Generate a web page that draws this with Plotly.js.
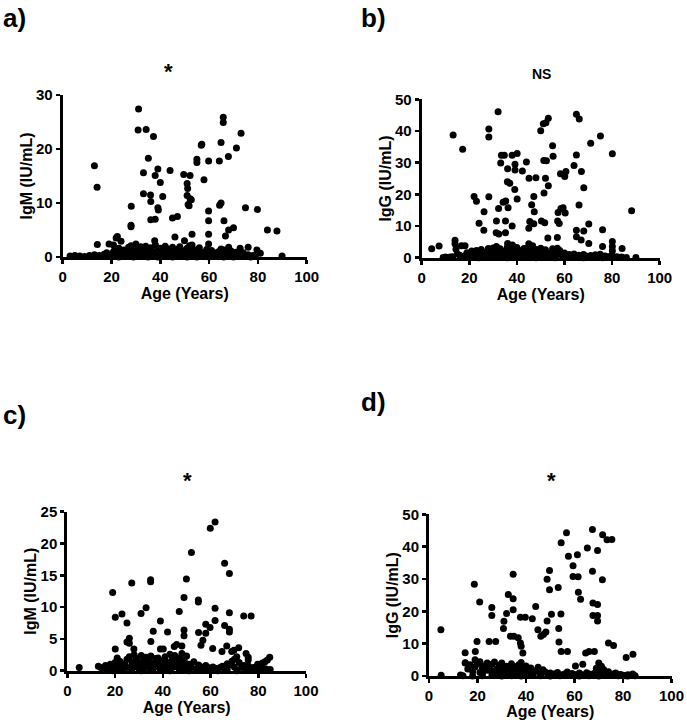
<!DOCTYPE html>
<html>
<head>
<meta charset="utf-8">
<script src="https://cdn.plot.ly/plotly-3.0.1.min.js"></script>
<style>html,body{margin:0;padding:0;background:#fff;}#chart{width:687px;height:720px;}</style>
</head>
<body>
<div id="chart"></div>
<script>
// ---------- Panel a: IgM vs Age ----------
const ageA_hi = [13,14.1,14.2,31.1,30.9,34.2,37.2,35.1,33.1,39,
  37.9,40,33.1,36,36.1,41,39,39.2,36.1,37.9,
  28.1,28,28,44,45,47,46,37.7,49.6,52.2,
  51,51.2,51,52.2,52.7,51.4,51.8,49.9,53,53,
  55,55,56.8,57,57.9,59.8,59.8,59.8,59.8,59.8,
  64.2,64.9,65.8,65.8,64.3,64.9,66.1,67.9,71.2,73.1,
  66.7,68,70,74.9,79.8,83.9,87.8,22.4,21.9,19,
  20.8,23.9,22.8,89.9,68,72.7,76,79.6,64.9];
const igmA_hi = [16.9,12.9,2.3,27.4,23.5,23.6,22.3,18.3,15.6,16.3,
  15.1,13.8,11.7,11.5,10.3,11.2,9.1,8.7,6.9,7.0,
  9.4,5.9,5.6,16.0,7.2,7.5,3.7,3.0,15.3,15.1,
  13.6,12.7,11.4,10.8,10.6,9.7,9.5,3.0,4.2,2.2,
  18.1,17.5,20.7,20.9,14.3,17.8,8.5,6.7,4.2,2.4,
  17.8,21.2,25.9,24.9,9.6,10.0,6.7,18.6,20.2,22.9,
  3.9,5.0,5.4,9.1,8.8,5.0,4.8,3.8,3.5,2.4,
  2.2,2.9,1.5,0.2,1.8,1.6,1.8,1.3,1.5];
const ageA_lo = [3,5,7,9,11,13,15,17,18,19,
  20,21,22,23,24,24,25,25,26,26,
  27,27,28,28,29,29,30,30,31,31,
  32,32,33,33,34,34,35,35,36,36,
  37,37,38,38,39,39,40,40,41,41,
  42,42,43,43,44,44,45,45,46,46,
  47,47,48,48,49,49,50,50,51,51,
  52,52,53,54,54,55,56,56,57,58,
  58,59,60,61,62,63,64,65,66,67,
  68,69,70,71,72,73,74,76,78,81,
  21,23,25,27,29,31,33,35,37,39,
  41,43,45,47,49,51,53,55,57,59,
  60,62,64,66,68,70,72,75,77,79];
const igmA_lo = [0.2,0.3,0.2,0.1,0.3,0.4,0.3,0.5,0.8,0.2,
  0.6,1.1,0.3,1.6,0.5,0.9,0.2,1.3,0.7,0.1,
  1.8,0.4,2.1,0.8,0.3,1.2,0.6,2.4,0.2,1.5,
  0.9,1.9,0.4,1.1,0.7,2.0,0.3,1.4,0.8,1.7,
  0.2,1.0,0.6,2.2,0.4,1.3,0.9,1.6,0.1,0.7,
  1.2,2.0,0.5,1.5,0.3,0.9,1.8,0.6,1.1,0.2,
  1.4,0.8,0.4,1.9,0.7,1.2,0.3,1.0,1.6,0.5,
  0.9,2.1,0.4,1.3,0.7,0.2,1.1,1.7,0.5,0.9,
  0.3,1.4,0.6,1.2,0.2,0.8,1.0,0.4,1.3,0.7,
  0.3,1.1,0.5,0.9,0.2,0.6,0.8,0.4,0.3,0.7,
  0.1,0.0,0.2,0.1,0.0,0.1,0.2,0.0,0.1,0.0,
  0.2,0.1,0.0,0.1,0.2,0.0,0.1,0.0,0.2,0.1,
  0.0,0.1,0.2,0.0,0.1,0.0,0.2,0.1,0.0,0.1];

// ---------- Panel b: IgG vs Age ----------
const ageB_hi = [4.2,7.3,13.2,17.2,14,14,14.4,16.7,18.2,32.1,
  28.2,28.2,22,23,28.2,26.2,24.1,26.1,31.4,31.3,
  32.4,32.3,33.2,33.5,34.7,34.2,35.3,35.2,35.2,36.3,
  36,37,36.1,38,39.2,39.2,40.1,39.1,40.1,38,
  42.3,44,45.1,48,47.1,46.2,47.3,45.4,47.1,45,
  50,51.1,52.2,53.2,51.3,52.4,55,55.2,52,53.2,
  51.4,50.3,51.7,53,57,57.1,57.8,58.3,60.6,60.1,
  58.5,59.4,60.3,57.3,64,65,65,66.2,67.1,68.1,
  66.1,65,65,67,68.1,70.2,70.2,71,75.1,80.1,
  76,76,80.1,80.1,80.1,84.2,88.2,90,57,45,
  46.6,38.1,36.1,31.4];
const iggB_hi = [2.8,3.7,38.7,34.2,4.4,5.5,2.7,3.8,3.8,46.1,
  40.6,38.1,19.3,17.8,19.2,14.5,10.9,8.7,11.6,7.9,
  7.5,15.5,29.9,32.3,32.3,17.5,17.9,11.6,7.9,15.8,
  24,23.5,28.1,32.3,29.5,27.7,32.9,21.5,18.5,10,
  27.4,30.2,25.1,25.2,19.3,16.7,14.5,11.4,10.7,9.3,
  40.1,42.3,42.6,44,30.7,30.6,35.3,32,25.1,22.7,
  20.4,11.6,11,6.2,6.4,11.6,10.8,26.5,27.2,25.6,
  15.5,15.8,14.1,14.3,29.1,32.4,45.3,43.8,27.2,22.1,
  16.6,8.7,6.6,5.6,8.4,4.5,10.6,36.1,38.4,32.8,
  8.8,3.5,5.1,3.5,2.2,2.9,14.8,0.1,3,4.4,
  3.8,4,4.5,3.5];
const ageB_lo = [9,10,11,12,13,15,16,18,19,20,
  21,22,22,23,24,25,25,26,27,27,
  28,28,29,29,30,30,31,32,32,33,
  33,34,34,35,35,36,36,37,37,38,
  38,39,39,40,40,41,41,42,42,43,
  43,44,44,45,46,46,47,47,48,48,
  49,49,50,50,51,51,52,53,53,54,
  55,55,56,57,58,59,60,61,62,63,
  64,65,66,67,68,69,70,71,72,73,
  74,75,76,77,78,79,80,82,84,86,
  20,24,28,32,36,40,44,48,52,56,
  60,64,68,72,76,80];
const iggB_lo = [0.1,0.2,0.1,0.2,0.3,1.2,0.8,0.5,1.6,0.9,
  2.1,0.4,1.4,2.3,0.7,1.1,2.6,0.3,1.8,0.6,
  2.9,1.0,0.4,2.2,1.5,3.1,0.8,2.4,0.3,1.7,
  2.8,0.6,1.3,2.0,0.2,3.3,1.1,0.5,2.5,1.4,
  0.3,2.7,0.9,1.8,3.2,0.4,1.5,2.3,0.7,1.2,
  2.9,0.5,1.9,3.4,0.8,2.1,0.3,1.6,2.6,1.0,
  0.4,2.2,1.3,3.0,0.6,1.9,2.5,0.9,1.4,0.2,
  1.7,2.8,0.5,1.1,2.3,0.7,1.5,0.3,1.0,0.6,
  1.2,0.4,0.8,0.2,1.0,0.5,0.3,0.7,0.4,0.9,
  0.6,1.1,0.3,0.5,0.2,0.4,0.8,0.3,0.2,0.1,
  0.1,0.0,0.2,0.1,0.0,0.1,0.2,0.0,0.1,0.0,
  0.2,0.1,0.0,0.1,0.0,0.2];

// ---------- Panel c: IgM vs Age ----------
const ageC_hi = [5,19,20.1,20.1,20.9,22.9,25,25,26,26,
  27,27.9,30.9,33,34.9,34.9,35,36,39,39,
  40.2,42,44.8,45.8,46.9,48,48.9,48.9,48.9,49.9,
  52,54.9,54.9,55,56,56.8,58,58,59.8,59.9,
  61.9,60.9,61.9,61.9,64.8,65.9,65.9,66.8,67.9,67.9,
  67.9,67.9,68.9,69.8,71.8,73.9,77,74.9,75.8,75.8,
  79.7,81.7,82.8,83.8,84.8];
const igmC_hi = [0.5,12.3,8.4,3.4,2.0,8.9,7.5,4.5,5.1,4.3,
  13.8,3.4,9,9.9,14.3,14.0,4.6,6.2,7.8,3.4,
  3.4,6.1,3.8,4.1,9.3,3.9,11.5,6.4,5.5,14.4,
  18.6,11.1,10.8,6.0,4,4.8,5.9,7.3,6.8,22.4,
  23.4,3.5,9.8,7.9,3.0,16.9,7.1,3.9,15.3,9.1,
  6.5,6.1,3.0,3.2,3.6,8.6,8.6,2.7,2.1,1.7,
  1.0,1.2,1.4,1.7,2.1];
const ageC_lo = [13,14,15,16,17,18,19,20,21,22,
  22,23,24,25,25,26,27,27,28,28,
  29,29,30,30,31,31,32,32,33,33,
  34,34,35,35,36,36,37,37,38,38,
  39,39,40,40,41,41,42,43,43,44,
  44,45,45,46,46,47,47,48,48,49,
  49,50,50,51,52,53,54,55,56,57,
  58,59,60,61,62,63,64,65,66,67,
  68,69,70,70,71,72,73,74,75,76,
  77,78,79,80,81,82,83,84,85,78,
  15,19,23,27,31,35,39,43,47,51,
  55,59,63,67,71,75];
const igmC_lo = [0.7,0.5,0.4,0.8,0.3,1.0,0.6,1.3,0.4,0.9,
  1.5,0.3,1.1,1.8,0.5,2.2,0.8,1.4,2.5,0.6,
  1.0,1.9,0.4,1.3,2.4,0.7,1.6,0.3,2.1,1.0,
  0.5,1.7,2.3,0.8,1.2,0.4,1.9,0.6,1.4,2.0,
  0.3,1.1,1.6,0.7,2.2,0.4,1.3,2.6,0.9,0.5,
  1.8,1.2,2.4,0.6,1.5,2.0,0.8,2.7,1.1,0.4,
  1.6,2.3,0.7,1.0,0.5,1.4,0.3,0.9,0.6,0.4,
  0.8,0.5,0.3,0.6,0.4,0.2,0.5,0.7,0.3,1.1,
  0.9,1.5,1.8,0.6,2.2,1.3,0.5,0.8,0.4,0.7,
  0.3,0.5,0.2,0.4,0.3,0.2,0.3,0.1,0.2,0.1,
  0.1,0.0,0.2,0.1,0.0,0.1,0.2,0.0,0.1,0.0,
  0.2,0.1,0.0,0.1,0.0,0.2];

// ---------- Panel d: IgG vs Age ----------
const ageD_hi = [4.9,14.9,19.1,18.7,20.9,19.8,14.9,25.9,25.9,24.8,
  27.5,34.7,32.7,34.7,34.7,30.9,32,37.7,39.7,30.7,
  33.6,35,36.8,37.7,38,38.7,42.6,44,44.9,46.1,
  47.2,48.2,48.7,48.7,49.7,49.7,50.5,53.3,53.5,54.4,
  54.5,56.7,53.6,54.5,57.1,57.5,61.2,59.4,59.4,61.5,
  61.6,62.5,65.3,67.4,71.6,73.4,75.4,69.5,67.4,71.5,
  67.6,69.5,67.6,69.5,69.5,74,76.1,81.3,84.1,64.6,
  66,68.2,63.4,60.4,70,71.1];
const iggD_hi = [14.3,7.2,7.6,28.4,22.9,10.7,4.0,21.2,18.7,10.7,
  10.7,31.5,25.2,23.9,20.5,16.9,19.3,18.2,18.2,14.7,
  12.3,12.3,11.8,10.2,9.2,7.1,17.7,21.5,14.3,12.3,
  12.8,13.6,17.0,29.9,32.6,26.7,19.1,27.4,14.7,19.2,
  41.2,44.3,10.5,7.6,7.6,37.0,37.5,34.1,30.8,30.7,
  25.9,23.7,39.6,45.3,43.7,42.1,42.2,38.8,32.4,29.8,
  22.6,22.1,18.7,18.7,17.0,10.2,9.4,5.7,6.7,7.1,
  7.6,7.6,3.6,3.1,4.0,3.0];
const ageD_lo = [13,15,16,17,18,19,19,20,21,21,
  22,22,23,24,24,25,26,26,27,27,
  28,28,29,29,30,30,31,31,32,32,
  33,33,34,34,35,36,36,37,37,38,
  38,39,39,40,40,41,42,42,43,44,
  45,46,47,48,49,50,51,52,53,55,
  56,57,58,59,60,62,63,64,65,66,
  67,68,69,70,71,72,73,74,75,76,
  77,78,79,80,81,82,83,84,85,5,
  14,18,22,26,30,34,38,42,46,50,
  54,58,62,66,70,74,78,82];
const iggD_lo = [0.3,4.1,2.2,3.5,1.4,5.0,2.8,3.9,1.1,4.4,
  2.5,0.6,3.2,1.8,4.0,2.7,0.9,3.6,1.5,4.3,
  2.1,0.4,3.3,1.2,2.6,4.0,0.7,1.9,3.0,1.3,
  2.4,0.5,3.8,1.6,2.9,0.8,2.2,3.5,1.0,1.7,
  4.2,0.6,2.8,1.3,3.1,0.9,1.8,2.5,0.4,1.6,
  2.7,0.8,1.9,1.2,0.5,0.9,0.3,0.7,1.1,0.4,
  0.6,1.2,0.3,0.8,0.5,0.9,0.4,0.2,1.0,0.6,
  0.3,0.8,2.4,1.5,0.5,2.0,0.7,1.3,0.4,0.6,
  0.9,0.3,0.5,0.2,0.1,0.4,0.2,0.6,0.1,0.2,
  0.1,0.0,0.1,0.2,0.0,0.1,0.0,0.2,0.1,0.0,
  0.1,0.2,0.0,0.1,0.0,0.2,0.1,0.0];

const xTicks = [0,20,40,60,80,100];
const xTitle = 'Age (Years)';
const yTitles = ['IgM (IU/mL)','IgG (IU/mL)','IgM (IU/mL)','IgG (IU/mL)'];
const panelLabels = ['a)','b)','c)','d)'];
const sigLabels = ['*','NS','*','*'];

const FONT = 'Liberation Sans, Arial, Helvetica, sans-serif';
const mk = {color:'#000', size:7};

function tr(x, y, xa, ya){
  return {type:'scatter', mode:'markers', x:x, y:y, xaxis:xa, yaxis:ya,
    marker:mk, cliponaxis:false, hoverinfo:'skip', showlegend:false};
}
const data = [
  tr(ageA_lo.concat(ageA_hi), igmA_lo.concat(igmA_hi), 'x', 'y'),
  tr(ageB_lo.concat(ageB_hi), iggB_lo.concat(iggB_hi), 'x2', 'y2'),
  tr(ageC_lo.concat(ageC_hi), igmC_lo.concat(igmC_hi), 'x3', 'y3'),
  tr(ageD_lo.concat(ageD_hi), iggD_lo.concat(iggD_hi), 'x4', 'y4')
];

const tickF = {family:FONT, size:15, color:'#000', weight:'bold'};
const titleF = {family:FONT, size:16, color:'#000', weight:'bold'};

function xax(dom, anchor){
  return {domain:dom, anchor:anchor, range:[0,100], tickvals:xTicks,
    showline:true, linewidth:3, linecolor:'#000', mirror:false,
    ticks:'outside', ticklen:4, tickwidth:2.5, tickcolor:'#000',
    showgrid:false, zeroline:false,
    tickfont:tickF, automargin:false,
    title:{text:xTitle, standoff:0, font:titleF}};
}
function yax(dom, anchor, max, dt, title){
  return {domain:dom, anchor:anchor, range:[0,max], dtick:dt, tick0:0,
    showline:true, linewidth:3, linecolor:'#000',
    ticks:'outside', ticklen:4, tickwidth:2.5, tickcolor:'#000',
    showgrid:false, zeroline:false,
    tickfont:tickF, automargin:false,
    title:{text:title, standoff:0, font:titleF}};
}
const W = 687, H = 720;
const dx = (a,b)=>[a/W, b/W];
const dy = (top,bottom)=>[1-bottom/H, 1-top/H];

function ann(text, px, py, size, bold){
  return {text:text, x:px/W, y:1-py/H, xref:'paper', yref:'paper',
    xanchor:'center', yanchor:'middle', showarrow:false,
    font:{family:FONT, size:size, color:'#000', weight: bold ? 'bold' : 'normal'}};
}

const layout = {
  width:W, height:H, margin:{l:0,r:0,t:0,b:0},
  paper_bgcolor:'#fff', plot_bgcolor:'#fff',
  font:{family:FONT, color:'#000'},
  xaxis: xax(dx(62.7,306.7),'y'),
  yaxis: yax(dy(95,257),'x',30,10,yTitles[0]),
  xaxis2: xax(dx(421.7,659.7),'y2'),
  yaxis2: yax(dy(99.3,257.7),'x2',50,10,yTitles[1]),
  xaxis3: xax(dx(67.3,306),'y3'),
  yaxis3: yax(dy(511.7,670.7),'x3',25,5,yTitles[2]),
  xaxis4: xax(dx(429,671.5),'y4'),
  yaxis4: yax(dy(514.3,676),'x4',50,10,yTitles[3]),
  annotations:[
    ann(panelLabels[0], 14, 18, 26, true),
    ann(panelLabels[1], 373, 18, 26, true),
    ann(panelLabels[2], 14, 415, 26, true),
    ann(panelLabels[3], 373, 402, 26, true),
    ann(sigLabels[0], 168, 72, 22, true),
    ann(sigLabels[1], 541, 74, 14, true),
    ann(sigLabels[2], 187, 480, 22, true),
    ann(sigLabels[3], 551, 480, 22, true)
  ]
};
Plotly.newPlot('chart', data, layout, {staticPlot:true, displayModeBar:false});
</script>
</body>
</html>
